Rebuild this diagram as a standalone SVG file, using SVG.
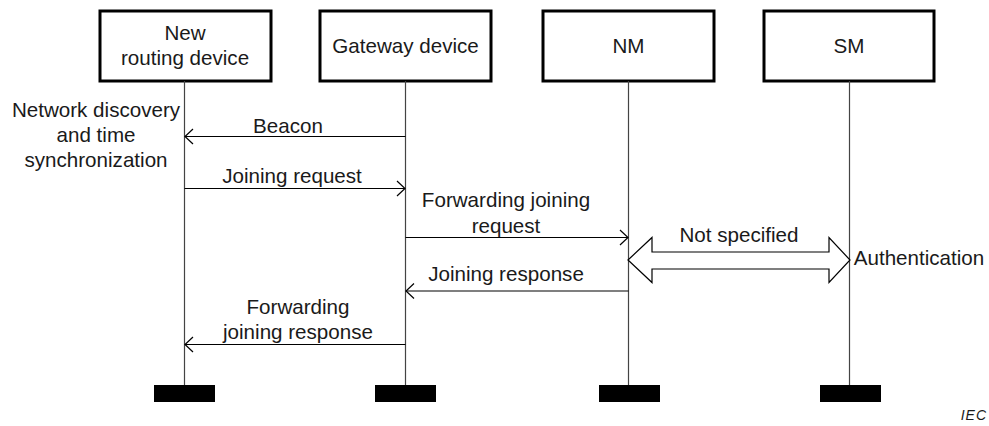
<svg xmlns="http://www.w3.org/2000/svg" width="989" height="426" viewBox="0 0 989 426">
  <style>
    text { font-family: "Liberation Sans", Arial, sans-serif; font-size: 20.6px; fill: #1a1a1a; text-anchor: middle; }
    .box { fill: #ffffff; stroke: #000000; stroke-width: 3; }
    .life { stroke: #444444; stroke-width: 1.2; fill: none; }
    .foot { fill: #000000; }
    .msg { stroke: #000000; stroke-width: 1.2; fill: none; }
    .head { stroke: #000000; stroke-width: 1.2; fill: none; }
    .big { fill: #ffffff; stroke: #000000; stroke-width: 1.2; stroke-linejoin: miter; }
    .note { text-anchor: middle; }
    .iec { font-size: 14px; font-style: italic; text-anchor: end; letter-spacing: 1px; }
  </style>

  <!-- participants -->
  <g id="node-new-routing-device">
    <rect class="box" x="100" y="11" width="171" height="70"/>
    <text x="185" y="40">New</text>
    <text x="185" y="65">routing device</text>
    <line class="life" x1="184.5" y1="81" x2="184.5" y2="385"/>
    <rect class="foot" x="154" y="385" width="61" height="17"/>
  </g>
  <g id="node-gateway-device">
    <rect class="box" x="320" y="11" width="171" height="70"/>
    <text x="405.5" y="53">Gateway device</text>
    <line class="life" x1="405.5" y1="81" x2="405.5" y2="385"/>
    <rect class="foot" x="375" y="385" width="61" height="17"/>
  </g>
  <g id="node-nm">
    <rect class="box" x="543" y="11" width="171" height="70"/>
    <text x="628.5" y="53">NM</text>
    <line class="life" x1="628.5" y1="81" x2="628.5" y2="385"/>
    <rect class="foot" x="599" y="385" width="61" height="17"/>
  </g>
  <g id="node-sm">
    <rect class="box" x="764" y="11" width="170" height="70"/>
    <text x="849" y="53">SM</text>
    <line class="life" x1="849.5" y1="81" x2="849.5" y2="385"/>
    <rect class="foot" x="820" y="385" width="61" height="17"/>
  </g>

  <!-- side notes -->
  <g id="note-discovery">
    <text class="note" x="96" y="117">Network discovery</text>
    <text class="note" x="96" y="142">and time</text>
    <text class="note" x="96" y="167">synchronization</text>
  </g>
  <g id="note-authentication">
    <text x="919" y="265">Authentication</text>
  </g>

  <!-- messages -->
  <g id="connectors">
    <!-- Beacon: gateway -> new device -->
    <line class="msg" x1="405.5" y1="136.5" x2="185" y2="136.5"/>
    <polyline class="head" points="193,129 185,136.5 193,144"/>
    <text x="288" y="133">Beacon</text>

    <!-- Joining request: new device -> gateway -->
    <line class="msg" x1="184.5" y1="188.5" x2="405" y2="188.5"/>
    <polyline class="head" points="397,181 405,188.5 397,196"/>
    <text x="292" y="183">Joining request</text>

    <!-- Forwarding joining request: gateway -> NM -->
    <line class="msg" x1="405.5" y1="237.5" x2="628" y2="237.5"/>
    <polyline class="head" points="620,230 628,237.5 620,245"/>
    <text x="506" y="207">Forwarding joining</text>
    <text x="506" y="233">request</text>

    <!-- Joining response: NM -> gateway -->
    <line class="msg" x1="628.5" y1="291" x2="406" y2="291"/>
    <polyline class="head" points="414,283.5 406,291 414,298.5"/>
    <text x="506" y="281">Joining response</text>

    <!-- Forwarding joining response: gateway -> new device -->
    <line class="msg" x1="405.5" y1="344.5" x2="185" y2="344.5"/>
    <polyline class="head" points="193,337 185,344.5 193,352"/>
    <text x="298" y="314">Forwarding</text>
    <text x="298" y="339">joining response</text>

    <!-- NM <-> SM, unspecified exchange -->
    <polygon class="big" points="628,260 652,237.5 652,252 829,252 829,237.5 850,260 829,282.5 829,269 652,269 652,282.5"/>
    <text x="739" y="242">Not specified</text>
  </g>

  <text class="iec" x="987" y="420">IEC</text>
</svg>
